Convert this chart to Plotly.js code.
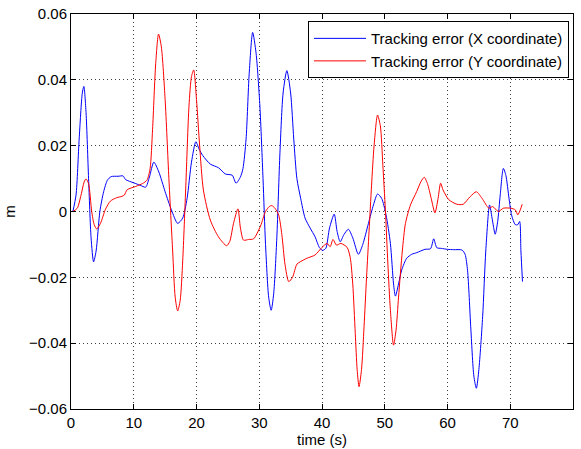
<!DOCTYPE html>
<html>
<head>
<meta charset="utf-8">
<script src="https://cdn.plot.ly/plotly-3.0.1.min.js"></script>
<style>html,body{margin:0;padding:0;background:#fff;}#chart{width:581px;height:449px;}</style>
</head>
<body>
<div id="chart"></div>
<script>
const xTime = [0.3,0.8,1.3,1.8,2.05,2.4,2.8,3.2,3.6,4.0,4.6,5.2,5.8,6.4,7.5,8.3,8.7,10,11,11.9,12.5,13.2,14,15,16,17,17.8,18.5,19.2,19.9,20.4,21,22.2,23.5,24.6,25.7,26.3,27.0,27.4,27.9,28.4,28.95,29.5,30.1,30.6,31.0,31.5,31.9,32.3,32.8,33.3,33.8,34.4,35.0,35.5,36.0,36.6,37.3,38.1,38.9,39.6,40.1,40.6,41.2,41.95,42.4,42.9,43.5,44.2,44.9,45.8,46.5,47.4,48.2,48.85,49.5,50.2,50.9,51.4,51.7,52.2,52.7,53.5,54.3,55.1,56.4,57.3,57.8,58.3,59,60,61,62.3,62.8,63.2,63.7,64.2,64.6,65.0,65.6,66.1,66.7,67.1,67.6,68.0,68.4,68.9,69.3,69.8,70.2,70.8,71.2,71.5,71.7,71.95];
const errX = [0,0.005,0.022,0.036,0.038,0.03,0.01,-0.008,-0.0153,-0.012,0.0,0.006,0.0095,0.0106,0.0107,0.0108,0.0097,0.0087,0.008,0.0074,0.0105,0.015,0.012,0.006,0.0005,-0.0036,-0.002,0.004,0.015,0.0212,0.019,0.017,0.0144,0.0133,0.0114,0.011,0.0086,0.0105,0.013,0.022,0.042,0.0544,0.048,0.032,0.01,-0.01,-0.026,-0.0300,-0.025,-0.008,0.018,0.036,0.0428,0.036,0.022,0.01,0.004,-0.002,-0.005,-0.0077,-0.011,-0.0118,-0.0112,-0.005,-0.0008,-0.006,-0.0092,-0.007,-0.0054,-0.008,-0.013,-0.010,-0.0036,0.002,0.0053,0.004,-0.001,-0.0097,-0.022,-0.0257,-0.022,-0.0178,-0.0142,-0.013,-0.0125,-0.0115,-0.0113,-0.0083,-0.011,-0.0112,-0.0115,-0.0116,-0.0117,-0.013,-0.018,-0.035,-0.05,-0.0537,-0.048,-0.032,-0.012,0.002,-0.002,-0.0069,-0.003,0.005,0.0131,0.011,0.004,-0.001,-0.004,-0.004,-0.003,-0.012,-0.0213];

const yTime = [0.3,1.0,1.6,2.1,2.4,2.8,3.3,3.7,4.1,4.7,5.5,6.3,7.3,8.1,8.5,8.95,10.3,11.4,12.1,12.6,13.0,13.5,13.95,14.4,15.0,15.6,16.2,16.6,17.0,17.4,17.8,18.3,18.8,19.2,19.55,20.0,20.5,21.1,22.2,23.5,24.8,25.3,25.9,26.6,27.0,27.5,28.3,29.1,30.2,31.0,31.6,32.0,32.5,33.1,33.6,34.1,34.7,35.3,36.0,36.6,37.6,38.9,40.0,40.8,41.3,41.75,42.3,43.0,44.0,44.5,44.9,45.3,45.6,45.9,46.3,46.7,47.1,47.5,47.9,48.3,48.85,49.3,49.7,50.1,50.5,50.9,51.4,51.8,52.2,52.8,53.3,54.1,55.1,55.8,56.3,56.8,57.4,58.0,58.5,58.9,59.3,60.2,61.5,62.5,63.6,64.6,65.5,66.6,67.2,68.1,68.9,70.1,70.8,71.2,71.6,71.9];
const errY = [0,0.001,0.005,0.009,0.0099,0.0085,0.0,-0.004,-0.0053,-0.0036,0.0007,0.0032,0.0042,0.0046,0.005,0.0066,0.0076,0.0085,0.0095,0.013,0.025,0.045,0.0539,0.05,0.034,0.01,-0.012,-0.026,-0.0302,-0.027,-0.015,0.008,0.032,0.041,0.043,0.034,0.02,0.0065,-0.0026,-0.0077,-0.0104,-0.0091,-0.0036,0.0008,-0.005,-0.0087,-0.0085,-0.0083,-0.0044,0.0,0.0015,0.0018,0.001,-0.0011,-0.007,-0.016,-0.0213,-0.0200,-0.016,-0.0152,-0.0142,-0.0132,-0.0109,-0.0097,-0.0107,-0.0085,-0.0102,-0.0097,-0.0109,-0.014,-0.022,-0.037,-0.048,-0.0532,-0.048,-0.035,-0.02,-0.006,0.008,0.02,0.0293,0.026,0.014,0.0005,-0.016,-0.030,-0.0406,-0.036,-0.026,-0.012,-0.0036,0.002,0.0061,0.0092,0.0104,0.0085,0.004,-0.0004,0.004,0.0086,0.0065,0.0036,0.0022,0.0022,0.0045,0.006,0.004,0.001,0.0015,0.0,0.001,0.001,0.0005,-0.001,0.0005,0.0022];

const seriesNames = ['Tracking error (X coordinate)', 'Tracking error (Y coordinate)'];
const xTicks = [0,10,20,30,40,50,60,70,80];
const yTicks = [-0.06,-0.04,-0.02,0,0.02,0.04,0.06];

const font = {family: 'Liberation Sans, Arial, Helvetica, sans-serif', size: 15, color: '#000'};

const traces = [
  {x: xTime, y: errX, name: seriesNames[0], type: 'scatter', mode: 'lines',
   line: {color: '#0000ff', width: 1, shape: 'spline', smoothing: 0.7}},
  {x: yTime, y: errY, name: seriesNames[1], type: 'scatter', mode: 'lines',
   line: {color: '#ff0000', width: 1, shape: 'spline', smoothing: 0.7}}
];

const axisCommon = {
  showline: true, linecolor: '#000', linewidth: 1, mirror: 'ticks',
  ticks: 'inside', ticklen: 5, tickcolor: '#000', tickwidth: 1,
  showgrid: true, gridcolor: 'rgba(0,0,0,0.75)', griddash: '1px,3px', gridwidth: 1,
  zeroline: false, tickfont: font
};

const layout = {
  width: 581, height: 449,
  margin: {l: 71, r: 8, t: 14, b: 40},
  paper_bgcolor: '#fff', plot_bgcolor: '#fff',
  font: font,
  showlegend: true,
  legend: {x: 0.992, y: 0.982, xanchor: 'right', yanchor: 'top',
    bordercolor: '#000', borderwidth: 1, bgcolor: '#fff', font: font,
    itemwidth: 52, tracegroupgap: 0},
  xaxis: Object.assign({}, axisCommon, {range: [0, 80], tickvals: xTicks,
    title: {text: 'time (s)', font: font, standoff: 2}}),
  yaxis: Object.assign({}, axisCommon, {range: [-0.06, 0.06], tickvals: yTicks,
    tickformat: '.2~f',
    title: {text: 'm', font: font, standoff: 9}})
};

Plotly.newPlot('chart', traces, layout, {displayModeBar: false, staticPlot: true});
</script>
</body>
</html>
